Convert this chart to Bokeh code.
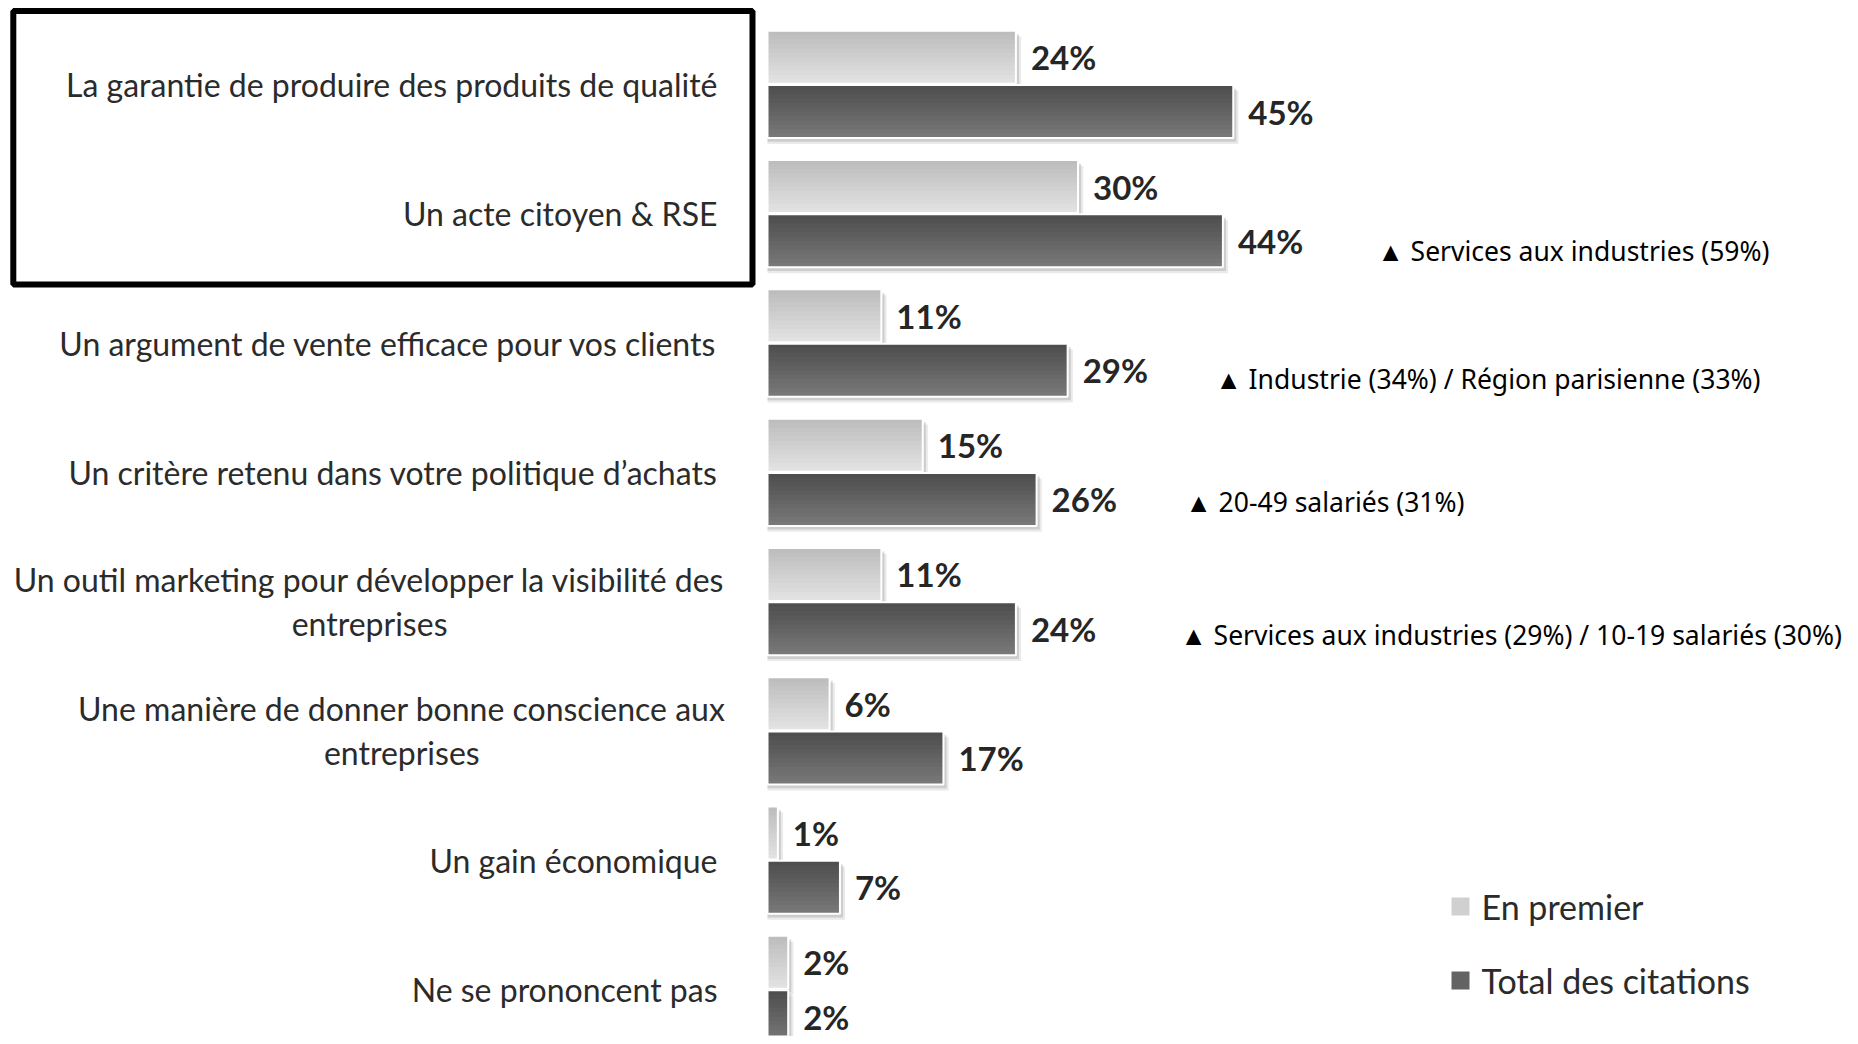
from bokeh.plotting import figure
from bokeh.models import Range1d, ColumnDataSource
from bokeh.core.properties import value
from bokeh.embed import file_html
from bokeh.resources import INLINE

# ---------------- data ----------------
categories = [
    "La garantie de produire des produits de qualité",
    "Un acte citoyen & RSE",
    "Un argument de vente efficace pour vos clients",
    "Un critère retenu dans votre politique d\u2019achats",
    "Un outil marketing pour développer la visibilité des\nentreprises",
    "Une manière de donner bonne conscience aux\nentreprises",
    "Un gain économique",
    "Ne se prononcent pas",
]
en_premier = [24, 30, 11, 15, 11, 6, 1, 2]
total_citations = [45, 44, 29, 26, 24, 17, 7, 2]
series_names = ["En premier", "Total des citations"]

annot_rows = [1, 2, 3, 4]
annot_texts = [
    "\u25B2 Services aux industries (59%)",
    "\u25B2 Industrie (34%) / Région parisienne (33%)",
    "\u25B2 20-49 salariés (31%)",
    "\u25B2 Services aux industries (29%) / 10-19 salariés (30%)",
]

# ---------------- layout helpers ----------------
FIG_W, FIG_H = 1842, 1036
X0_PX = 767.0         # pixel position of 0 %
PX_PER_PCT = 10.35
ROW0_PX = 83.9        # pixel position of first row centre
ROW_PX = 129.3        # pixels per row


def xd(px):
    return (px - X0_PX) / PX_PER_PCT


def yd(py):
    return (py - ROW0_PX) / ROW_PX


def lerp_hex(c1, c2, t):
    a = [int(c1[i:i + 2], 16) for i in (1, 3, 5)]
    b = [int(c2[i:i + 2], 16) for i in (1, 3, 5)]
    return "#" + "".join(f"{round(x + (y - x) * t):02x}" for x, y in zip(a, b))


LIGHT_TOP, LIGHT_BOT = "#bdbdbd", "#e2e2e2"
DARK_TOP, DARK_BOT = "#4e4e4e", "#787878"
LIGHT = "#d0d0d0"
DARK = "#636363"
TXT = "#2b2b2b"

p = figure(
    width=FIG_W, height=FIG_H,
    x_range=Range1d(xd(0), xd(FIG_W)),
    y_range=Range1d(yd(FIG_H), yd(0)),
    output_backend="svg", toolbar_location=None,
    x_axis_location=None, y_axis_location=None,
    min_border=0,
)
p.outline_line_color = None
p.xgrid.visible = False
p.ygrid.visible = False
p.background_fill_color = "white"

n = len(categories)
rows = list(range(n))
BAR_H = 0.41
OFF = 0.21

light_y = [r - OFF for r in rows]
dark_y = [r + OFF for r in rows]

src = ColumnDataSource(dict(
    row=rows,
    light_y=light_y,
    dark_y=dark_y,
    prem=en_premier,
    tot=total_citations,
    prem_lbl=[f"{v}%" for v in en_premier],
    tot_lbl=[f"{v}%" for v in total_citations],
    prem_lx=[v + 1.45 for v in en_premier],
    tot_lx=[v + 1.45 for v in total_citations],
))

# shadows
for dx, dy, alpha in ((0.5, 0.045, 0.18), (0.3, 0.028, 0.3)):
    p.hbar(y=[y + dy for y in light_y], left=0, right=[v + dx for v in en_premier],
           height=BAR_H, fill_color="#8a8a8a", fill_alpha=alpha, line_color=None)
    p.hbar(y=[y + dy for y in dark_y], left=0, right=[v + dx for v in total_citations],
           height=BAR_H, fill_color="#8a8a8a", fill_alpha=alpha, line_color=None)

# bars with a vertical gradient: each layer spans from its own top to the bar bottom
NS = 12
sh = BAR_H / NS
for k in range(NS):
    t = k / (NS - 1)
    top_off = -BAR_H / 2 + k * sh          # offset of layer top from bar centre
    h = BAR_H - k * sh
    cy = top_off + h / 2
    p.hbar(y=[y + cy for y in light_y], left=0, right=en_premier, height=h,
           fill_color=lerp_hex(LIGHT_TOP, LIGHT_BOT, t), line_color=None)
    p.hbar(y=[y + cy for y in dark_y], left=0, right=total_citations, height=h,
           fill_color=lerp_hex(DARK_TOP, DARK_BOT, t), line_color=None)

# white bar borders
p.hbar(y="light_y", left=0, right="prem", height=BAR_H, source=src,
       fill_color=None, line_color="white", line_width=2)
p.hbar(y="dark_y", left=0, right="tot", height=BAR_H, source=src,
       fill_color=None, line_color="white", line_width=2)

# value labels
p.text(x="prem_lx", y="light_y", text="prem_lbl", source=src,
       text_font=value("Lato"), text_font_style="bold", text_font_size="33px",
       text_color="#262626", text_baseline="middle", text_align="left")
p.text(x="tot_lx", y="dark_y", text="tot_lbl", source=src,
       text_font=value("Lato"), text_font_style="bold", text_font_size="33px",
       text_color="#262626", text_baseline="middle", text_align="left")

# category labels
single = [(r, c) for r, c in zip(rows, categories) if "\n" not in c]
multi = [(r, c) for r, c in zip(rows, categories) if "\n" in c]
p.text(x=[xd(717)] * len(single), y=[r for r, _ in single], text=[c for _, c in single],
       text_font=value("Lato"), text_font_size="32px", text_color=TXT,
       text_align="right", text_baseline="middle")
p.text(x=[xd(725)] * len(multi), y=[r for r, _ in multi], text=[c for _, c in multi],
       text_font=value("Lato"), text_font_size="32px", text_color=TXT,
       text_align="center", anchor="center_right", text_line_height=1.13)

# annotations
annot_x = [xd(1377), xd(1215), xd(1185), xd(1180)]
annot_dy = [0.287, 0.278, 0.232, 0.259]
p.text(x=annot_x, y=[r + d for r, d in zip(annot_rows, annot_dy)], text=annot_texts,
       text_font=value("Noto Sans"), text_font_size="26.5px", text_color="black",
       text_align="left", text_baseline="middle")

# highlight box around the first two categories
p.quad(left=[xd(12.8)], right=[xd(752)], top=[yd(10.4)], bottom=[yd(284)],
       fill_color=None, line_color="black", line_width=6)

# legend
leg_y = [yd(906), yd(980)]
p.rect(x=[xd(1460)] * 2, y=leg_y, width=18, height=18,
       width_units="screen", height_units="screen",
       fill_color=[LIGHT, DARK], line_color=None)
p.text(x=[xd(1481)] * 2, y=leg_y, text=series_names,
       text_font=value("Lato"), text_font_size="34px", text_color=TXT,
       text_align="left", text_baseline="middle")

open("out.html", "w").write(file_html(p, INLINE))
